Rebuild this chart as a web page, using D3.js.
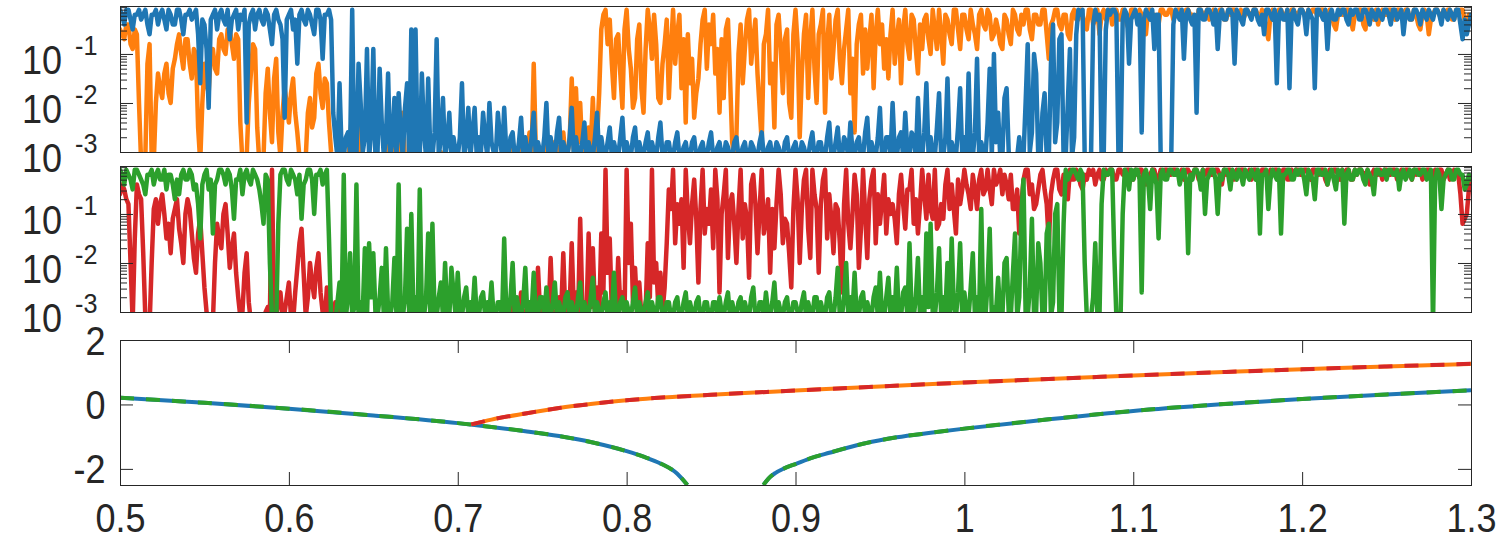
<!DOCTYPE html>
<html>
<head>
<meta charset="utf-8">
<script src="https://cdn.jsdelivr.net/npm/d3@7"></script>
<style>
body { margin: 0; background: #fff; }
text { font-family: "Liberation Sans", Arial, sans-serif; fill: #262626; }
</style>
</head>
<body>
<svg id="chart" width="1500" height="540"></svg>
<script>
// exponents in tenths of a decade: value = 10^(v/10), sampled evenly from 0.5 to 1.3
var blueTop = [
 -1,-2,-4,-1,-1,-3,-5,-2,-2,-1,-3,-2,-1,-4,-6,-2,-2,-1,-4,-2,
 -1,-3,-5,-1,-2,-4,-4,-1,-1,-3,-6,-2,-2,-1,-3,-2,-1,-6,-16,-3,
 -4,-9,-21,-3,-2,-1,-5,-2,-1,-3,-4,-1,-7,-3,-2,-1,-5,-2,-3,-1,
 -24,-4,-2,-1,-5,-2,-1,-3,-4,-1,-2,-5,-8,-2,-1,-3,-4,-7,-23,-3,
 -2,-1,-5,-3,-12,-2,-1,-3,-4,-1,-2,-4,-6,-1,-1,-3,-11,-2,-2,-1,
 -3,-22,-27,-31,-16,-30,-31,-27,-26,-30,-1,-31,-31,-12,-20,-30,-27,-9,-31,-26,
 -9,-31,-30,-13,-24,-31,-27,-14,-31,-28,-19,-31,-18,-26,-31,-21,-16,-31,-5,-30,
 -5,-30,-31,-14,-26,-31,-15,-30,-31,-26,-7,-31,-27,-19,-31,-28,-22,-31,-27,-30,
 -31,-27,-16,-31,-28,-21,-31,-26,-21,-31,-27,-30,-22,-27,-31,-20,-28,-30,-31,-22,
 -27,-31,-21,-30,-31,-27,-26,-31,-31,-28,-23,-31,-27,-30,-31,-27,-22,-31,-28,-30,
 -31,-27,-20,-31,-27,-30,-31,-26,-23,-31,-28,-30,-31,-27,-21,-31,-27,-30,-31,-28,
 -24,-31,-28,-30,-31,-27,-22,-31,-27,-30,-31,-28,-25,-31,-28,-30,-31,-27,-23,-31,
 -28,-30,-31,-27,-25,-31,-28,-30,-31,-28,-26,-31,-28,-30,-31,-27,-24,-31,-31,-28,
 -28,-31,-31,-28,-26,-31,-31,-29,-28,-31,-31,-28,-27,-31,-31,-29,-28,-31,-31,-28,
 -26,-31,-31,-29,-28,-31,-31,-28,-29,-31,-31,-28,-27,-31,-31,-29,-28,-31,-31,-28,
 -29,-31,-31,-28,-26,-31,-31,-29,-28,-31,-31,-28,-29,-31,-31,-28,-27,-31,-31,-29,
 -28,-31,-31,-28,-29,-31,-31,-28,-26,-31,-31,-28,-28,-31,-31,-27,-24,-31,-31,-28,
 -25,-31,-31,-27,-28,-31,-24,-30,-31,-28,-27,-31,-31,-26,-23,-31,-28,-30,-31,-27,
 -21,-31,-31,-27,-27,-31,-20,-30,-31,-27,-26,-31,-22,-30,-31,-26,-27,-31,-19,-30,
 -31,-26,-16,-30,-27,-31,-31,-25,-18,-31,-31,-27,-15,-31,-28,-30,-31,-25,-17,-31,
 -27,-31,-14,-30,-31,-26,-11,-31,-28,-30,-31,-24,-13,-31,-10,-28,-22,-31,-31,-19,
 -17,-30,-31,-32,-32,-31,-27,-33,-31,-20,-8,-30,-26,-10,-14,-31,-31,-22,-18,-31,
 -31,-12,-4,-28,-24,-7,-6,-31,-31,-20,-9,-31,-27,-6,-1,-2,-1,-31,-31,-32,
 -31,-4,-1,-3,-2,-31,-31,-5,-1,-2,-1,-1,-2,-31,-31,-3,-1,-2,-12,-3,
 -2,-1,-4,-2,-26,-3,-1,-2,-3,-1,-9,-2,-2,-31,-32,-33,-31,-32,-31,-4,
 -1,-2,-3,-1,-11,-2,-1,-3,-4,-2,-22,-1,-1,-3,-3,-1,-1,-2,-4,-1,
 -9,-2,-1,-3,-3,-1,-1,-2,-12,-1,-2,-3,-4,-1,-1,-2,-3,-1,-1,-3,
 -4,-2,-6,-1,-1,-2,-3,-1,-16,-2,-1,-3,-3,-1,-17,-2,-1,-3,-4,-1,
 -1,-2,-6,-1,-2,-3,-17,-1,-1,-2,-3,-1,-9,-2,-1,-3,-3,-1,-2,-1,
 -1,-3,-4,-1,-2,-1,-1,-3,-3,-1,-1,-2,-4,-1,-2,-3,-1,-2,-3,-1,
 -1,-2,-4,-1,-1,-3,-2,-1,-6,-2,-1,-3,-3,-1,-1,-2,-4,-1,-2,-3,
 -1,-2,-3,-1,-1,-2,-4,-1,-2,-3,-1,-2,-3,-1,-1,-4,-7,-3,-6,-4,
 -2];

var orangeTop = [
 -5,-6,-7,-4,-4,-8,-9,-5,-6,-20,-32,-33,-31,-12,-8,-31,-32,-20,-14,-17,
 -19,-14,-12,-18,-20,-13,-11,-8,-6,-10,-13,-7,-7,-12,-15,-9,-10,-25,-32,-20,
 -12,-16,-18,-10,-9,-13,-14,-7,-6,-9,-10,-5,-5,-8,-11,-6,-7,-24,-32,-33,
 -31,-20,-14,-8,-9,-25,-32,-33,-31,-18,-13,-22,-28,-15,-11,-26,-31,-22,-17,-20,
 -24,-18,-15,-22,-26,-31,-32,-33,-31,-22,-19,-25,-23,-14,-12,-18,-21,-15,-16,-24,
 -30,-33,-32,-31,-31,-33,-33,-32,-32,-27,-22,-31,-31,-33,-25,-32,-33,-31,-32,-33,
 -32,-33,-31,-32,-33,-31,-32,-30,-27,-32,-31,-28,-20,-31,-22,-32,-33,-31,-32,-33,
 -31,-32,-33,-31,-32,-33,-31,-32,-33,-31,-32,-33,-30,-32,-33,-31,-31,-33,-32,-31,
 -33,-32,-31,-33,-32,-31,-30,-32,-33,-31,-32,-33,-31,-32,-33,-31,-32,-33,-30,-32,
 -31,-32,-29,-31,-32,-30,-28,-31,-30,-32,-27,-31,-31,-30,-26,-30,-12,-30,-29,-31,
 -30,-31,-27,-30,-31,-29,-28,-31,-29,-30,-26,-31,-30,-28,-15,-30,-17,-28,-20,-30,
 -28,-30,-25,-29,-19,-30,-27,-18,-5,-2,-1,-8,-3,-12,-19,-7,-6,-14,-21,-5,
 -1,-9,-13,-21,-19,-7,-4,-17,-22,-9,-1,-5,-11,-2,-8,-19,-20,-12,-8,-3,
 -19,-9,-1,-12,-6,-2,-17,-7,-24,-6,-16,-11,-23,-18,-15,-8,-3,-1,-13,-4,
 -8,-2,-14,-9,-22,-7,-19,-5,-3,-15,-28,-31,-27,-10,-4,-16,-9,-3,-1,-12,
 -7,-3,-14,-21,-28,-8,-6,-1,-16,-12,-25,-4,-2,-9,-18,-7,-5,-20,-23,-6,
 -1,-8,-27,-14,-6,-2,-19,-7,-1,-13,-20,-6,-4,-1,-22,-8,-2,-15,-9,-3,
 -1,-11,-16,-9,-5,-1,-18,-11,-26,-8,-4,-2,-14,-5,-13,-7,-2,-17,-6,-1,
 -8,-4,-13,-7,-15,-6,-1,-12,-7,-3,-16,-5,-1,-8,-11,-2,-3,-9,-14,-4,
 -9,-3,-2,-7,-10,-1,-5,-9,-1,-6,-12,-2,-3,-6,-8,-1,-1,-5,-9,-2,
 -2,-5,-7,-1,-4,-6,-9,-2,-1,-4,-5,-1,-2,-7,-6,-3,-5,-8,-9,-2,
 -3,-6,-8,-1,-2,-5,-6,-2,-4,-1,-1,-5,-7,-2,-2,-4,-4,-1,-1,-6,
 -11,-4,-3,-1,-1,-4,-5,-2,-2,-6,-7,-2,-1,-3,-3,-1,-2,-4,-5,-1,
 -1,-4,-3,-1,-6,-2,-1,-3,-2,-1,-4,-2,-1,-3,-3,-1,-2,-4,-5,-1,
 -1,-2,-3,-1,-2,-4,-6,-1,-1,-2,-2,-3,-4,-1,-1,-2,-2,-1,-1,-3,
 -2,-1,-1,-2,-3,-1,-1,-2,-2,-3,-4,-1,-1,-2,-2,-1,-3,-2,-1,-2,
 -2,-1,-1,-3,-3,-1,-2,-1,-1,-2,-2,-1,-3,-2,-1,-2,-2,-1,-1,-2,
 -3,-1,-2,-5,-7,-2,-1,-2,-2,-1,-1,-2,-3,-1,-2,-1,-1,-2,-2,-1,
 -1,-2,-3,-1,-2,-1,-1,-2,-2,-1,-1,-3,-3,-1,-2,-4,-5,-2,-1,-2,
 -2,-1,-1,-3,-5,-2,-2,-1,-1,-4,-5,-1,-1,-2,-3,-1,-4,-2,-1,-2,
 -2,-1,-1,-2,-3,-1,-1,-2,-2,-1,-1,-3,-3,-1,-2,-4,-5,-2,-1,-2,
 -6,-3,-2,-1,-1,-2,-3,-1,-2,-1,-1,-3,-3,-1,-2,-1,-1,-3,-4,-2,
 -3];

var greenMid = [
 -1,-2,-4,-1,-2,-3,-5,-1,-1,-2,-3,-4,-6,-2,-2,-1,-4,-2,-1,-3,
 -3,-1,-5,-2,-2,-4,-7,-3,-6,-2,-1,-3,-3,-1,-2,-5,-4,-8,-15,-4,
 -2,-1,-5,-3,-14,-4,-3,-1,-1,-2,-4,-1,-2,-5,-11,-3,-3,-1,-6,-2,
 -1,-3,-4,-1,-2,-3,-5,-8,-12,-2,-3,-20,-31,-33,-32,-12,-2,-1,-1,-3,
 -4,-1,-2,-3,-6,-2,-11,-4,-3,-1,-1,-3,-10,-2,-2,-1,-4,-2,-1,-15,
 -31,-33,-32,-28,-24,-30,-2,-31,-27,-18,-31,-29,-4,-31,-28,-30,-17,-31,-16,-27,
 -18,-30,-31,-27,-21,-31,-17,-30,-31,-28,-19,-31,-4,-30,-31,-27,-13,-31,-10,-30,
 -27,-31,-5,-30,-31,-27,-14,-31,-12,-30,-31,-27,-24,-31,-20,-30,-31,-21,-26,-31,
 -22,-30,-31,-27,-25,-31,-28,-30,-23,-31,-31,-27,-26,-31,-28,-30,-24,-31,-31,-28,
 -28,-31,-15,-30,-31,-27,-20,-31,-27,-30,-31,-28,-21,-31,-28,-30,-22,-31,-31,-27,
 -27,-31,-25,-30,-31,-28,-24,-31,-28,-30,-31,-27,-26,-31,-28,-30,-31,-27,-24,-31,
 -28,-30,-31,-27,-23,-31,-28,-30,-31,-28,-26,-31,-28,-30,-22,-31,-31,-28,-27,-31,
 -28,-30,-31,-28,-25,-31,-28,-30,-31,-28,-26,-31,-28,-30,-31,-27,-27,-31,-31,-28,
 -28,-31,-31,-28,-27,-31,-31,-28,-26,-31,-28,-30,-31,-28,-27,-31,-31,-28,-28,-31,
 -31,-28,-28,-31,-27,-30,-31,-28,-26,-31,-28,-30,-31,-28,-27,-31,-28,-30,-31,-27,
 -25,-31,-31,-28,-28,-31,-26,-30,-31,-28,-24,-31,-28,-30,-31,-28,-27,-31,-31,-28,
 -28,-30,-31,-28,-26,-31,-28,-30,-31,-27,-27,-31,-28,-30,-31,-27,-26,-31,-31,-27,
 -21,-31,-31,-27,-20,-31,-27,-30,-22,-31,-31,-27,-26,-31,-28,-30,-31,-27,-25,-31,
 -22,-31,-31,-27,-23,-31,-27,-30,-21,-31,-31,-26,-25,-31,-16,-30,-31,-27,-19,-31,
 -27,-31,-14,-29,-12,-30,-31,-26,-17,-31,-27,-30,-20,-31,-15,-29,-31,-26,-16,-31,
 -26,-30,-31,-25,-18,-31,-27,-30,-9,-31,-31,-24,-13,-31,-29,-30,-23,-31,-31,-20,
 -19,-30,-31,-22,-14,-31,-27,-10,-3,-30,-31,-25,-11,-31,-30,-16,-20,-31,-31,-14,
 -12,-31,-28,-10,-8,-30,-31,-12,-1,-3,-2,-1,-1,-2,-3,-1,-2,-20,-31,-32,
 -31,-27,-16,-31,-31,-8,-1,-2,-2,-1,-1,-18,-31,-32,-31,-10,-1,-2,-5,-1,
 -3,-1,-1,-3,-26,-2,-1,-3,-9,-1,-2,-4,-15,-2,-1,-3,-3,-1,-1,-2,
 -2,-1,-4,-2,-1,-3,-18,-2,-3,-1,-1,-2,-5,-1,-10,-3,-2,-1,-1,-3,
 -10,-2,-3,-1,-1,-2,-5,-1,-2,-3,-1,-2,-4,-1,-2,-3,-1,-2,-3,-1,
 -14,-2,-2,-1,-9,-3,-1,-2,-3,-1,-14,-2,-2,-1,-1,-3,-3,-1,-2,-1,
 -1,-3,-6,-1,-2,-3,-7,-1,-1,-2,-2,-1,-4,-2,-1,-3,-5,-1,-2,-1,
 -12,-2,-1,-3,-3,-1,-2,-1,-1,-3,-4,-1,-2,-3,-6,-1,-1,-2,-2,-1,
 -3,-1,-1,-2,-2,-1,-5,-2,-1,-3,-2,-1,-3,-1,-1,-2,-2,-1,-1,-3,
 -2,-1,-33,-3,-1,-2,-9,-3,-2,-1,-1,-3,-3,-1,-1,-2,-2,-5,-4,-2,
 -3];

var redMid = [
 -6,-4,-5,-7,-8,-20,-32,-15,-4,-6,-7,-18,-31,-33,-33,-20,-9,-7,-12,-8,
 -6,-10,-15,-12,-18,-11,-9,-7,-13,-16,-20,-10,-7,-9,-14,-19,-22,-14,-11,-18,
 -25,-30,-31,-33,-32,-20,-12,-15,-17,-10,-8,-14,-21,-17,-14,-22,-27,-31,-30,-22,
 -18,-28,-32,-33,-31,-32,-33,-31,-32,-30,-29,-31,-1,-32,-31,-28,-26,-31,-30,-27,
 -24,-31,-32,-26,-21,-16,-13,-22,-31,-27,-20,-24,-27,-21,-18,-26,-30,-32,-25,-31,
 -31,-33,-28,-31,-29,-32,-32,-33,-33,-31,-31,-33,-32,-31,-33,-32,-31,-33,-32,-31,
 -33,-31,-32,-33,-31,-32,-33,-31,-32,-33,-31,-32,-33,-31,-32,-33,-31,-32,-33,-31,
 -32,-33,-31,-32,-33,-31,-32,-33,-31,-32,-33,-31,-32,-33,-31,-32,-33,-31,-32,-33,
 -31,-32,-33,-31,-32,-33,-31,-32,-33,-31,-32,-33,-31,-32,-33,-31,-32,-33,-31,-32,
 -32,-31,-30,-32,-31,-33,-29,-31,-32,-30,-26,-31,-30,-32,-31,-29,-28,-31,-21,-30,
 -31,-32,-29,-31,-19,-30,-30,-31,-27,-30,-18,-31,-31,-29,-16,-30,-26,-31,-11,-28,
 -29,-31,-14,-29,-17,-30,-25,-31,-14,-26,-1,-22,-15,-30,-28,-31,-19,-29,-26,-31,
 -1,-20,-12,-28,-21,-30,-24,-31,-29,-30,-16,-27,-1,-24,-20,-29,-22,-30,-25,-16,
 -5,-9,-1,-16,-8,-12,-7,-21,-1,-10,-16,-8,-3,-11,-24,-9,-1,-14,-9,-12,
 -5,-17,-1,-7,-26,-10,-6,-1,-19,-8,-6,-12,-20,-9,-1,-15,-8,-11,-23,-4,
 -2,-8,-18,-9,-1,-14,-11,-7,-22,-9,-17,-8,-1,-6,-16,-11,-12,-18,-25,-9,
 -1,-7,-20,-9,-3,-1,-13,-19,-1,-6,-9,-22,-8,-3,-1,-15,-6,-11,-18,-8,
 -9,-16,-26,-8,-1,-12,-17,-10,-2,-6,-21,-13,-1,-10,-19,-7,-3,-1,-16,-6,
 -12,-7,-2,-14,-7,-10,-8,-11,-16,-6,-2,-8,-13,-5,-5,-1,-12,-7,-14,-8,
 -1,-6,-11,-2,-9,-11,-1,-13,-12,-8,-11,-4,-1,-9,-4,-9,-14,-3,-8,-5,
 -1,-4,-6,-9,-2,-5,-9,-3,-1,-6,-5,-1,-5,-8,-1,-4,-3,-1,-6,-2,
 -4,-7,-2,-9,-9,-5,-14,-8,-3,-1,-1,-6,-4,-9,-8,-5,-2,-1,-5,-8,
 -16,-6,-3,-1,-1,-5,-6,-2,-4,-7,-1,-3,-3,-1,-2,-4,-5,-2,-3,-1,
 -2,-1,-4,-2,-1,-3,-3,-1,-2,-1,-1,-3,-3,-1,-1,-2,-2,-1,-1,-3,
 -3,-1,-2,-1,-1,-3,-4,-2,-2,-1,-1,-3,-3,-1,-2,-1,-1,-2,-2,-1,
 -1,-2,-2,-1,-3,-1,-1,-2,-2,-1,-1,-3,-3,-1,-2,-1,-1,-2,-2,-1,
 -1,-2,-4,-1,-2,-1,-1,-3,-3,-1,-2,-1,-1,-2,-2,-1,-3,-1,-1,-2,
 -2,-1,-1,-2,-3,-1,-2,-1,-1,-2,-2,-1,-1,-3,-3,-1,-2,-1,-1,-2,
 -2,-1,-1,-2,-3,-1,-1,-2,-2,-1,-1,-3,-4,-1,-2,-1,-1,-2,-3,-1,
 -2,-1,-1,-3,-3,-1,-2,-1,-1,-2,-2,-1,-4,-2,-1,-2,-2,-1,-3,-1,
 -1,-2,-2,-1,-1,-3,-3,-1,-2,-1,-1,-2,-3,-1,-2,-1,-1,-3,-2,-1,
 -1,-2,-3,-1,-2,-1,-1,-3,-2,-1,-3,-2,-1,-2,-2,-6,-12,-11,-10,-5,
 -3];

// bottom panel branches
var lowLeftX = [0.5, 0.55, 0.6, 0.65, 0.7, 0.72, 0.74, 0.76, 0.78, 0.8, 0.81, 0.82, 0.83, 0.836];
var lowLeftY = [0.21, 0.05, -0.13, -0.34, -0.58, -0.7, -0.83, -0.98, -1.18, -1.45, -1.62, -1.83, -2.15, -2.5];
var lowRightX = [0.881, 0.884, 0.888, 0.893, 0.9, 0.91, 0.92, 0.94, 0.96, 0.98, 1.0, 1.05, 1.1, 1.15, 1.2, 1.25, 1.3];
var lowRightY = [-2.5, -2.3, -2.13, -1.99, -1.85, -1.65, -1.5, -1.22, -1.02, -0.88, -0.75, -0.46, -0.2, 0.0, 0.17, 0.31, 0.44];
var upperX = [0.708, 0.72, 0.74, 0.76, 0.78, 0.8, 0.85, 0.9, 0.95, 1.0, 1.05, 1.1, 1.15, 1.2, 1.25, 1.3];
var upperY = [-0.62, -0.47, -0.28, -0.11, 0.02, 0.13, 0.3, 0.43, 0.56, 0.68, 0.79, 0.9, 1.0, 1.09, 1.18, 1.26];

var xTicks = [0.5, 0.6, 0.7, 0.8, 0.9, 1.0, 1.1, 1.2, 1.3];
var xTickLabels = ["0.5", "0.6", "0.7", "0.8", "0.9", "1", "1.1", "1.2", "1.3"];
var logTicks = [1e-3, 1e-2, 1e-1];
var logExps = ["-3", "-2", "-1"];
var linTicks = [-2, 0, 2];
var linTickLabels = ["-2", "0", "2"];

var blue = "#1f77b4", orange = "#ff7f0e", green = "#2ca02c", red = "#d62728";
var axisColor = "#262626";

var left = 120, right = 1471;
var svg = d3.select("#chart");

var x = d3.scaleLinear().domain([0.5, 1.3]).range([left, right]);

function styleAxis(g) {
    g.select(".domain").remove();
    g.selectAll("line").attr("stroke", axisColor).attr("stroke-width", 1);
}

function logPanel(top, bottom, series, clipId) {
    var y = d3.scaleLog().domain([1e-3, 0.95]).range([bottom, top]);

    svg.append("clipPath").attr("id", clipId)
        .append("rect")
        .attr("x", left).attr("y", top)
        .attr("width", right - left).attr("height", bottom - top);

    var plot = svg.append("g").attr("clip-path", "url(#" + clipId + ")");
    series.forEach(function(s) {
        var idx = d3.scaleLinear().domain([0, s.data.length - 1]).range([0.5, 1.3]);
        var line = d3.line()
            .x(function(d, i) { return x(idx(i)); })
            .y(function(d) { return y(Math.pow(10, d / 10)); });
        plot.append("path")
            .datum(s.data)
            .attr("fill", "none")
            .attr("stroke", s.color)
            .attr("stroke-width", 4.5)
            .attr("stroke-linejoin", "round")
            .attr("stroke-linecap", "round")
            .attr("d", line);
    });

    var minors = [];
    [1e-3, 1e-2, 1e-1].forEach(function(d) {
        for (var k = 2; k <= 9; k++) {
            if (d * k < 0.95) minors.push(d * k);
        }
    });

    svg.append("g").attr("transform", "translate(" + left + ",0)")
        .call(d3.axisLeft(y).tickValues(logTicks).tickSize(-13).tickFormat(""))
        .call(styleAxis);
    svg.append("g").attr("transform", "translate(" + left + ",0)")
        .call(d3.axisLeft(y).tickValues(minors).tickSize(-7).tickFormat(""))
        .call(styleAxis);
    svg.append("g").attr("transform", "translate(" + right + ",0)")
        .call(d3.axisRight(y).tickValues(logTicks).tickSize(-13).tickFormat(""))
        .call(styleAxis);
    svg.append("g").attr("transform", "translate(" + right + ",0)")
        .call(d3.axisRight(y).tickValues(minors).tickSize(-7).tickFormat(""))
        .call(styleAxis);

    svg.append("rect")
        .attr("x", left).attr("y", top)
        .attr("width", right - left).attr("height", bottom - top)
        .attr("fill", "none").attr("stroke", axisColor).attr("stroke-width", 1)
        .attr("shape-rendering", "crispEdges");

    // 10^n labels
    logTicks.forEach(function(v, i) {
        var ty = y(v);
        svg.append("g").attr("transform", "translate(62," + (ty + 20) + ")")
            .append("text")
            .attr("text-anchor", "end")
            .attr("transform", "scale(0.9,1)")
            .style("font-size", "40px")
            .text("10");
        svg.append("g").attr("transform", "translate(75," + (ty + 1) + ")")
            .append("text")
            .attr("text-anchor", "start")
            .attr("transform", "scale(0.9,1)")
            .style("font-size", "28px")
            .text(logExps[i]);
    });
}

logPanel(6, 152, [{data: orangeTop, color: orange}, {data: blueTop, color: blue}], "clip1");
logPanel(166, 312, [{data: redMid, color: red}, {data: greenMid, color: green}], "clip2");

// bottom panel
var top3 = 340, bottom3 = 485;
var y3 = d3.scaleLinear().domain([-2.5, 2]).range([bottom3, top3]);

svg.append("clipPath").attr("id", "clip3")
    .append("rect")
    .attr("x", left).attr("y", top3)
    .attr("width", right - left).attr("height", bottom3 - top3);

function pairs(xs, ys) {
    return xs.map(function(d, i) { return [d, ys[i]]; });
}

var line3 = d3.line()
    .x(function(d) { return x(d[0]); })
    .y(function(d) { return y3(d[1]); })
    .curve(d3.curveMonotoneX);

var plot3 = svg.append("g").attr("clip-path", "url(#clip3)");
var curves = [
    {data: pairs(lowLeftX, lowLeftY), color: blue, dash: null},
    {data: pairs(lowRightX, lowRightY), color: blue, dash: null},
    {data: pairs(upperX, upperY), color: orange, dash: null},
    {data: pairs(lowLeftX, lowLeftY), color: green, dash: "14,12"},
    {data: pairs(lowRightX, lowRightY), color: green, dash: "14,12"},
    {data: pairs(upperX, upperY), color: red, dash: "14,12"}
];
curves.forEach(function(c) {
    plot3.append("path")
        .datum(c.data)
        .attr("fill", "none")
        .attr("stroke", c.color)
        .attr("stroke-width", 4)
        .attr("stroke-dasharray", c.dash)
        .attr("d", line3);
});

svg.append("g").attr("transform", "translate(0," + bottom3 + ")")
    .call(d3.axisBottom(x).tickValues(xTicks).tickSize(-13)
        .tickFormat(function(d, i) { return xTickLabels[i]; }))
    .call(styleAxis)
    .call(function(g) {
        g.selectAll("text")
            .attr("y", 47).attr("dy", null)
            .attr("transform", "scale(0.9,1)")
            .style("font-size", "40px")
            .attr("fill", axisColor);
    });
svg.append("g").attr("transform", "translate(0," + top3 + ")")
    .call(d3.axisTop(x).tickValues(xTicks).tickSize(-13).tickFormat(""))
    .call(styleAxis);
svg.append("g").attr("transform", "translate(" + left + ",0)")
    .call(d3.axisLeft(y3).tickValues(linTicks).tickSize(-13)
        .tickFormat(function(d, i) { return linTickLabels[i]; }))
    .call(styleAxis)
    .call(function(g) {
        g.selectAll("text")
            .attr("x", -16).attr("dy", "0.35em")
            .attr("transform", "scale(0.9,1)")
            .style("font-size", "40px")
            .attr("fill", axisColor);
    });
svg.append("g").attr("transform", "translate(" + right + ",0)")
    .call(d3.axisRight(y3).tickValues(linTicks).tickSize(-13).tickFormat(""))
    .call(styleAxis);

svg.append("rect")
    .attr("x", left).attr("y", top3)
    .attr("width", right - left).attr("height", bottom3 - top3)
    .attr("fill", "none").attr("stroke", axisColor).attr("stroke-width", 1)
    .attr("shape-rendering", "crispEdges");
</script>
</body>
</html>
